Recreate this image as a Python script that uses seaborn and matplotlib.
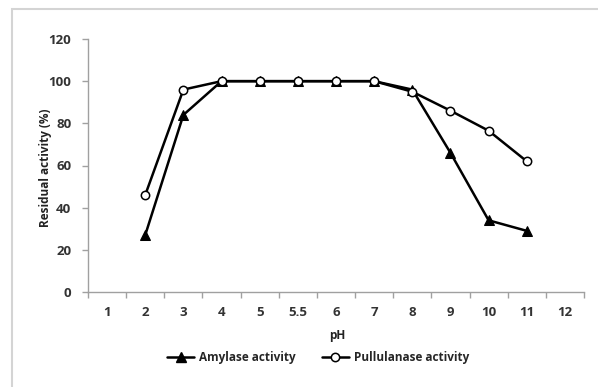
import matplotlib
matplotlib.use("Agg")
import matplotlib.pyplot as plt
import seaborn as sns
import pandas as pd
import numpy as np
from matplotlib.lines import Line2D

ph_labels = ["1", "2", "3", "4", "5", "5.5", "6", "7", "8", "9", "10", "11", "12"]
amylase = [None, 27, 84, 100, 100, 100, 100, 100, 96, 66, 34, 29, None]
pullulanase = [None, 46, 96, 100, 100, 100, 100, 100, 95, 86, 76.5, 62, None]
y_ticks = [0, 20, 40, 60, 80, 100, 120]

sns.set_theme(style="white")
plt.rcParams['font.family'] = ['Open Sans', 'DejaVu Sans']

idx = np.arange(len(ph_labels))
df = pd.DataFrame({"pos": idx, "Amylase activity": amylase, "Pullulanase activity": pullulanase})

fig = plt.figure(figsize=(5.98, 3.87), dpi=100)
ax = fig.add_axes([88/598, 1-292/387, (584-88)/598, (292-39)/387])

# outer frame
fig.add_artist(plt.Rectangle((12/598, -0.05), 1.2, (1-9/387)+0.05, transform=fig.transFigure,
                             fill=False, edgecolor="#d4d4d4", linewidth=1.5))

d1 = df.dropna(subset=["Amylase activity"])
d2 = df.dropna(subset=["Pullulanase activity"])
sns.lineplot(data=d1, x="pos", y="Amylase activity", ax=ax, color="black", lw=1.8,
             marker="^", markersize=6.5, markerfacecolor="black", markeredgecolor="black", zorder=3)
sns.lineplot(data=d2, x="pos", y="Pullulanase activity", ax=ax, color="black", lw=1.8,
             marker="o", markersize=6, markerfacecolor="white", markeredgecolor="black",
             markeredgewidth=1.1, zorder=4)

ax.set_xlim(-0.5, len(ph_labels) - 0.5)
ax.set_ylim(0, 120)
ax.set_yticks(y_ticks)
ax.set_yticklabels([str(v) for v in y_ticks], fontsize=9.5, fontweight="bold", color="#333333")
ax.set_xticks(np.arange(len(ph_labels) + 1) - 0.5)
ax.set_xticklabels([])
ax.set_xticks(idx, minor=True)
ax.set_xticklabels(ph_labels, minor=True, fontsize=9.5, fontweight="bold", color="#333333")
ax.tick_params(axis="x", which="major", length=4, color="#a0a0a0", width=1, direction="out", bottom=True)
ax.tick_params(axis="x", which="minor", length=0, pad=10, bottom=True)
ax.tick_params(axis="y", length=4, color="#a0a0a0", width=1, direction="out", left=True, pad=8)

for s in ["top", "right"]:
    ax.spines[s].set_visible(False)
for s in ["left", "bottom"]:
    ax.spines[s].set_color("#a0a0a0")
    ax.spines[s].set_linewidth(1)

ax.set_xlabel("")
ax.set_ylabel("")
fig.text(337/598, 1-335/387, "pH", fontsize=8.5, fontweight="bold", color="#222222",
         ha="center", va="center")
fig.text(45/598, 1-168/387, "Residual activity (%)", fontsize=8.5, fontweight="bold",
         color="#222222", ha="center", va="center", rotation=90)

handles = [
    Line2D([], [], color="black", lw=1.8, marker="^", markersize=6.5, markerfacecolor="black"),
    Line2D([], [], color="black", lw=1.8, marker="o", markersize=6, markerfacecolor="white", markeredgewidth=1.1),
]
fig.legend(handles, ["Amylase activity", "Pullulanase activity"], loc="center",
           bbox_to_anchor=(318/598, 1-358/387), ncol=2, frameon=False,
           prop={"size": 8.5, "weight": "bold"}, handlelength=2.3, columnspacing=2.2, handletextpad=0.4)

fig.savefig("out.png", dpi=100, facecolor="white")
